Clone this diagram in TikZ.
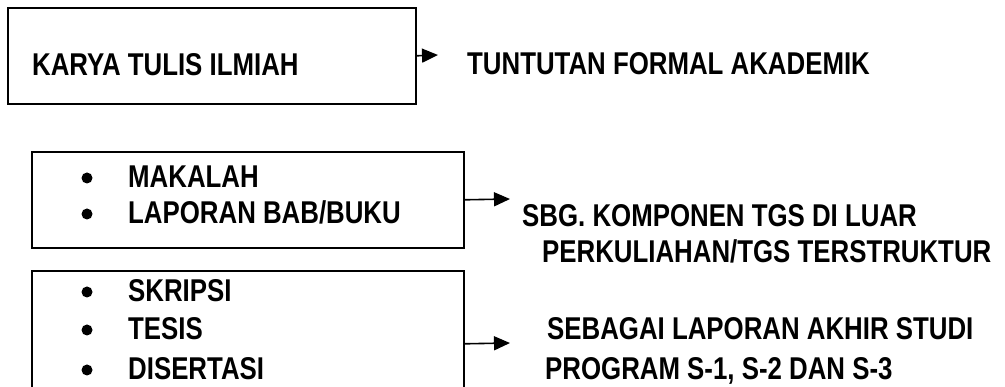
\documentclass[tikz,border=0pt]{standalone}
\usepackage{fontspec}
\setmainfont[FakeStretch=0.82]{Liberation Sans}
\usetikzlibrary{arrows.meta}
\tikzset{
  boxnode/.style={draw, line width=1.6pt, inner sep=0pt, anchor=north west},
  lbl/.style={anchor=base west, inner sep=0pt, font=\fontsize{31.5}{36}\selectfont\bfseries},
  bul/.style={circle, fill, inner sep=0pt, minimum size=11pt},
  conn/.style={line width=1.6pt, -{Triangle[length=16pt,width=14pt]}}
}
\begin{document}
\begin{tikzpicture}[x=1pt,y=-1pt]
\useasboundingbox (0,0) rectangle (1005,387);
% boxes
\node[boxnode, minimum width=408pt, minimum height=96pt] (b1) at (7,7) {};
\node[boxnode, minimum width=432pt, minimum height=96pt] (b2) at (31,151) {};
\node[boxnode, minimum width=432pt, minimum height=146pt] (b3) at (31,270) {};
% box texts
\node[lbl] (t1) at (32,76) {KARYA TULIS ILMIAH};
\node[bul] (p1) at (87,178) {};
\node[lbl] (i1) at (128,188) {MAKALAH};
\node[bul] (p2) at (87,214) {};
\node[lbl] (i2) at (128,224) {LAPORAN BAB/BUKU};
\node[bul] (p3) at (87,292) {};
\node[lbl] (i3) at (128,302) {SKRIPSI};
\node[bul] (p4) at (87,330) {};
\node[lbl] (i4) at (128,340) {TESIS};
\node[bul] (p5) at (87,370) {};
\node[lbl] (i5) at (128,380) {DISERTASI};
% right texts
\node[lbl] (r1) at (467,75) {TUNTUTAN FORMAL AKADEMIK};
\node[lbl] (r2a) at (522,227) {SBG. KOMPONEN TGS DI LUAR};
\node[lbl] (r2b) at (542,263) {PERKULIAHAN/TGS TERSTRUKTUR};
\node[lbl] (r3a) at (547,340) {SEBAGAI LAPORAN AKHIR STUDI};
\node[lbl] (r3b) at (545,380) {PROGRAM S-1, S-2 DAN S-3};
% arrow ends
\coordinate (e1) at (438,55);
\coordinate (e2) at (510,199);
\coordinate (e3) at (510,343);
\draw[conn] (b1.east) -- (e1);
\draw[conn] (b2.east) -- (e2);
\draw[conn] (b3.east) -- (e3);
\end{tikzpicture}
\end{document}
